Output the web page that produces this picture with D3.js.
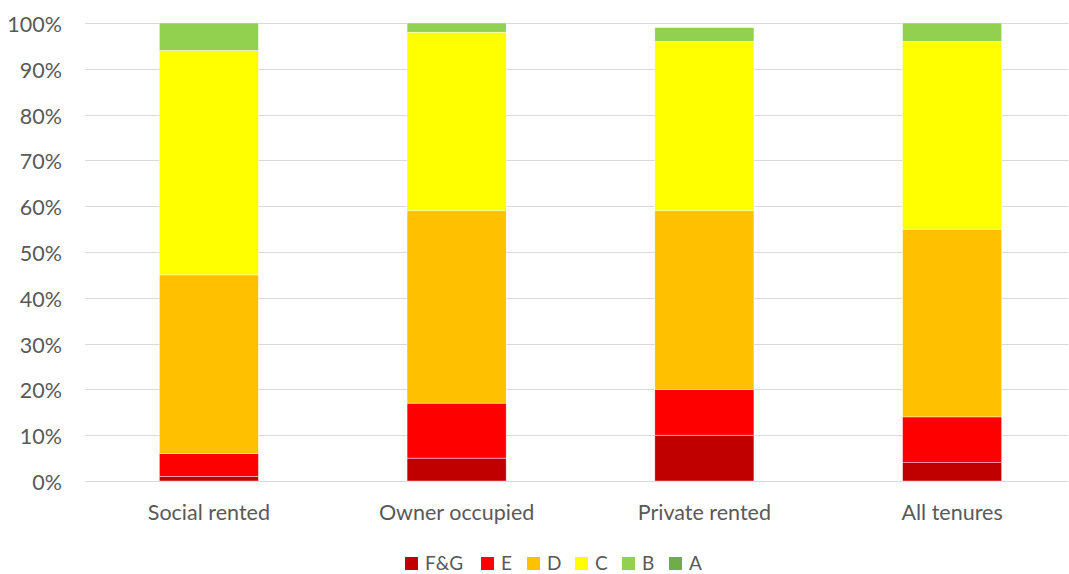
<!DOCTYPE html>
<html>
<head>
<meta charset="utf-8">
<script src="https://cdn.jsdelivr.net/npm/d3@7"></script>
<style>
  html, body { margin: 0; padding: 0; background: #fff; }
  svg { display: block; }
  text { font-family: Lato, "Open Sans", sans-serif; fill: #595959; }
</style>
</head>
<body>
<svg id="chart" width="1069" height="574"></svg>
<script>
// EPC band share by tenure (percent of dwellings)
const tenures = ["Social rented", "Owner occupied", "Private rented", "All tenures"];
const bands = ["F&G", "E", "D", "C", "B", "A"];
const bandColors = ["#C00000", "#FF0000", "#FFC000", "#FFFF00", "#92D050", "#70AD47"];
const valFG = [1, 5, 10, 4];
const valE  = [5, 12, 10, 10];
const valD  = [39, 42, 39, 41];
const valC  = [49, 39, 37, 41];
const valB  = [6, 2, 3, 4];
const valA  = [0, 0, 0, 0];
const yTicks = [0, 10, 20, 30, 40, 50, 60, 70, 80, 90, 100];

const seriesValues = [valFG, valE, valD, valC, valB, valA];
const rows = tenures.map((t, i) => {
  const r = { tenure: t };
  bands.forEach((b, j) => { r[b] = seriesValues[j][i]; });
  return r;
});

const svg = d3.select("#chart");
const plotLeft = 85, plotRight = 1076, plotTop = 23, plotBottom = 481;
const fontSize = "21.5px";

const x = d3.scaleBand().domain(tenures).range([plotLeft, plotRight])
  .paddingInner(0.6).paddingOuter(0.3);
const y = d3.scaleLinear().domain([0, 100]).range([plotBottom, plotTop]);
const color = d3.scaleOrdinal().domain(bands).range(bandColors);

// gridlines
svg.append("g").selectAll("line").data(yTicks).join("line")
  .attr("x1", plotLeft).attr("x2", 1068)
  .attr("y1", d => Math.round(y(d)) + 0.5).attr("y2", d => Math.round(y(d)) + 0.5)
  .attr("stroke", "#d9d9d9").attr("stroke-width", 1);

// y labels
const yAxis = d3.axisLeft(y).tickValues(yTicks).tickFormat(d => d + "%").tickSize(0).tickPadding(0);
const gy = svg.append("g").attr("transform", "translate(62,0)").call(yAxis);
gy.select(".domain").remove();
gy.selectAll("text").attr("font-size", fontSize).attr("dy", null).attr("y", 8.5)
  .style("font-family", "Lato, 'Open Sans', sans-serif").attr("fill", "#595959");

// stacked bars
const stack = d3.stack().keys(bands)(rows);
svg.append("g").selectAll("g").data(stack).join("g")
  .attr("fill", d => color(d.key))
  .selectAll("rect").data(d => d).join("rect")
  .attr("x", d => x(d.data.tenure))
  .attr("width", x.bandwidth())
  .attr("y", d => y(d[1]))
  .attr("height", d => Math.max(0, y(d[0]) - y(d[1])))
  .attr("stroke", "#ffffff").attr("stroke-width", 0.6).attr("stroke-opacity", 0.7);

// category labels
const xAxis = d3.axisBottom(x).tickSize(0).tickPadding(0);
const gx = svg.append("g").call(xAxis);
gx.select(".domain").remove();
gx.selectAll("text").attr("font-size", fontSize).attr("dy", null).attr("y", 520)
  .style("font-family", "Lato, 'Open Sans', sans-serif").attr("fill", "#595959");

// legend
const legendX = [405, 481, 527, 575, 622, 669];
const legend = svg.append("g").selectAll("g").data(bands).join("g")
  .attr("transform", (d, i) => `translate(${legendX[i]},557)`);
legend.append("rect").attr("width", 13).attr("height", 13).attr("fill", d => color(d));
legend.append("text").attr("x", 20).attr("y", 13).attr("font-size", "19px").text(d => d);
</script>
</body>
</html>
